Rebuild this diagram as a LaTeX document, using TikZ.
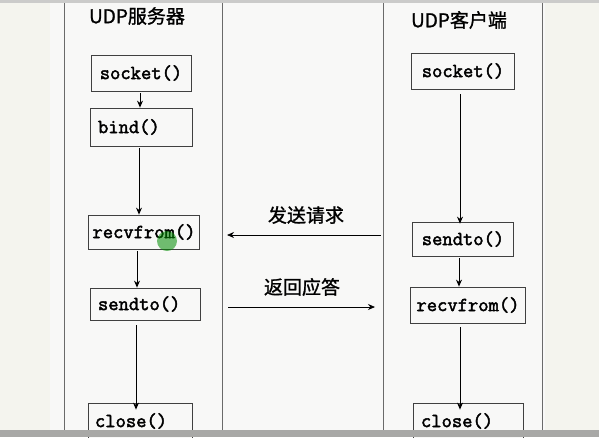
\documentclass[tikz,border=0pt]{standalone}
\usepackage{fontspec}
\newfontfamily\cjk{Noto Sans CJK SC}[FakeBold=1.2]
\newfontfamily\codefont{Latin Modern Mono}[FakeBold=2.2]
\usetikzlibrary{arrows.meta}
\definecolor{cream}{HTML}{F4F4EE}
\definecolor{paper}{HTML}{F8F8F7}
\definecolor{barg}{HTML}{A8A8A6}
\definecolor{laneline}{HTML}{6A6A6A}
\tikzset{
  fn/.style={draw=black!75, line width=0.8pt, fill=paper, inner sep=0pt, font=\codefont\fontsize{20}{20}\selectfont},
  flow/.style={-{Stealth[length=7pt,width=6pt]}, line width=1pt},
  msg/.style={-{Stealth[length=7pt,width=6pt]}, line width=0.8pt},
  lane/.style={draw=laneline, line width=1pt},
  ttl/.style={font=\cjk\fontsize{19}{19}\selectfont},
}
\begin{document}
\begin{tikzpicture}[x=1pt,y=-1pt]
\useasboundingbox (0,0) rectangle (599,437);
\fill[cream] (0,0) rectangle (599,437);
\fill[paper] (50,0) rectangle (545,437);
\fill[barg!60] (0,0) rectangle (599,3);
% lanes
\draw[lane] (64,3) -- (64,437);
\draw[lane] (222,3) -- (222,437);
\draw[lane] (383,3) -- (383,437);
\draw[lane] (542,3) -- (542,437);
% titles
\node[ttl] (ts) at (137,16) {UDP服务器};
\node[ttl] (tc) at (459,20) {UDP客户端};
% server boxes
\node[fn, minimum width=100pt, minimum height=36pt] (s1) at (141,73) {socket()};
\node[fn, minimum width=102pt, minimum height=38pt, text width=86pt] (s2) at (141,127) {bind()};
\node[fn, minimum width=111pt, minimum height=34pt] (s3) at (144,232) {recvfrom()};
\node[fn, minimum width=110pt, minimum height=32pt, text width=94pt] (s4) at (145,304) {sendto()};
\node[fn, minimum width=104pt, minimum height=36pt, text width=90pt] (s5) at (140,421) {close()};
% client boxes
\node[fn, minimum width=103pt, minimum height=36pt] (c1) at (463,71) {socket()};
\node[fn, minimum width=101pt, minimum height=34pt] (c2) at (463,239) {sendto()};
\node[fn, minimum width=115pt, minimum height=36pt] (c3) at (468,305) {recvfrom()};
\node[fn, minimum width=110pt, minimum height=36pt, text width=94pt] (c5) at (468,421) {close()};
% server flow
\draw[flow] ([yshift=-2pt]s1.south -| 140,0) -- (s2.north -| 140,0);
\draw[flow] ([yshift=-2pt]s2.south -| 139,0) -- (s3.north -| 139,0);
\draw[flow] ([yshift=-2pt]s3.south -| 137,0) -- (s4.north -| 137,0);
\draw[flow] ([yshift=-5pt]s4.south -| 136,0) -- ([yshift=-7pt]s5.north -| 136,0);
% client flow
\draw[flow] ([yshift=-5pt]c1.south -| 460,0) -- ([yshift=-2pt]c2.north -| 460,0);
\draw[flow] ([yshift=-2pt]c2.south -| 459,0) -- (c3.north -| 459,0);
\draw[flow] ([yshift=-4pt]c3.south -| 460,0) -- ([yshift=-7pt]c5.north -| 460,0);
% messages
\coordinate (m1a) at (381,235);
\coordinate (m1b) at (227,235);
\draw[msg] (m1a) -- (m1b);
\node[ttl] (l1) at (306,215) {发送请求};
\coordinate (m2a) at (228,307);
\coordinate (m2b) at (375,307);
\draw[msg] (m2a) -- (m2b);
\node[ttl] (l2) at (302,287) {返回应答};
% cursor highlight
\fill[green!55!black, opacity=0.55] (167,241) circle (10pt);
% bottom bar
\fill[barg] (0,430) rectangle (599,437);
\end{tikzpicture}
\end{document}
